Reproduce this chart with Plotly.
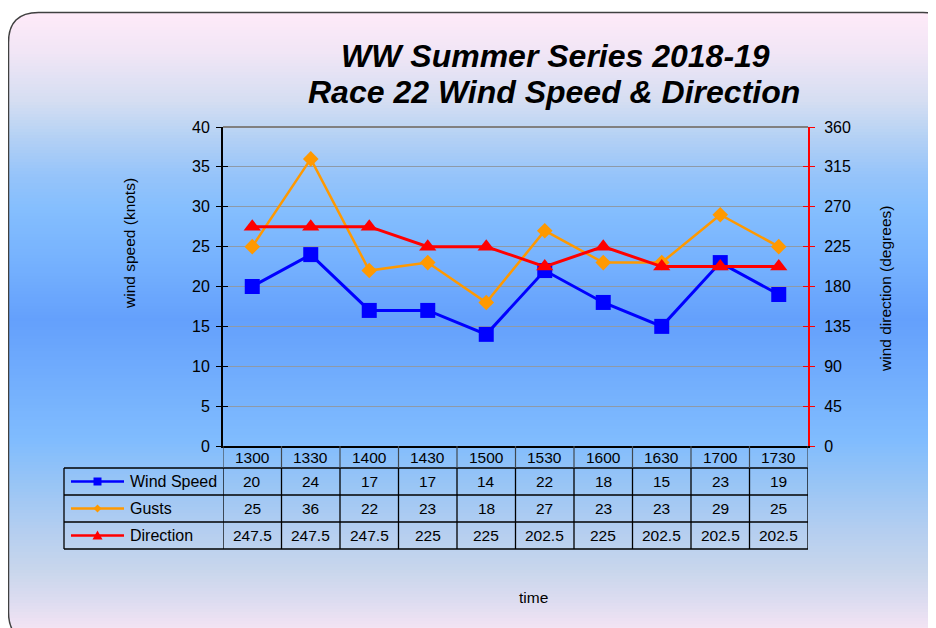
import plotly.graph_objects as go

times = ["1300", "1330", "1400", "1430", "1500", "1530", "1600", "1630", "1700", "1730"]
wind_speed = [20, 24, 17, 17, 14, 22, 18, 15, 23, 19]
gusts = [25, 36, 22, 23, 18, 27, 23, 23, 29, 25]
direction = [247.5, 247.5, 247.5, 225, 225, 202.5, 225, 202.5, 202.5, 202.5]
direction_labels = ["247.5", "247.5", "247.5", "225", "225", "202.5", "225", "202.5", "202.5", "202.5"]

# page has an 8px body margin: figure occupies window pixels 8..936 x 8..628
OFF = 8
W, H = 936 - OFF, 628 - OFF
FONT = "Liberation Sans, Arial, sans-serif"


def px(x):
    return (x - OFF) / W


def py(y):
    return 1 - (y - OFF) / H


BLUE = "#0000FF"
ORANGE = "#FF9900"
RED = "#FF0000"

fig = go.Figure()
fig.add_trace(go.Scatter(x=times, y=wind_speed, mode="lines+markers", name="Wind Speed",
                         line=dict(color=BLUE, width=3),
                         marker=dict(symbol="square", size=15, color=BLUE), xaxis="x", yaxis="y"))
fig.add_trace(go.Scatter(x=times, y=gusts, mode="lines+markers", name="Gusts",
                         line=dict(color=ORANGE, width=2.5),
                         marker=dict(symbol="diamond", size=12, color=ORANGE), xaxis="x", yaxis="y"))
fig.add_trace(go.Scatter(x=times, y=direction, mode="lines+markers", name="Direction",
                         line=dict(color=RED, width=3),
                         marker=dict(symbol="triangle-up", size=15, color=RED), xaxis="x", yaxis="y2"))

shapes = []

# background gradient
stops = [
    (12, (0xFF, 0xEA, 0xF8)), (50, (0xF2, 0xE6, 0xF6)), (100, (0xD6, 0xDE, 0xF2)),
    (135, (0xB6, 0xD2, 0xF4)), (175, (0x96, 0xC4, 0xFA)), (210, (0x84, 0xBE, 0xFE)),
    (260, (0x76, 0xB2, 0xFE)), (320, (0x64, 0xA0, 0xFC)), (380, (0x72, 0xAE, 0xFD)),
    (440, (0x80, 0xBC, 0xFE)), (480, (0x96, 0xC4, 0xF6)), (530, (0xB4, 0xCE, 0xF0)),
    (570, (0xC8, 0xD6, 0xEC)), (600, (0xDC, 0xDC, 0xF0)), (630, (0xF4, 0xE4, 0xF4)),
]


def col_at(y):
    for (y0, c0), (y1, c1) in zip(stops[:-1], stops[1:]):
        if y0 <= y <= y1:
            t = (y - y0) / (y1 - y0)
            return "rgb(%d,%d,%d)" % tuple(round(a + (b - a) * t) for a, b in zip(c0, c1))
    return "rgb(%d,%d,%d)" % stops[-1][1]


y = 12
step = 3
while y < 632:
    shapes.append(dict(type="rect", xref="paper", yref="paper", x0=px(8), x1=1.05,
                       y0=py(y), y1=py(y + step + 0.6), fillcolor=col_at(y + step / 2),
                       line=dict(width=0), layer="below"))
    y += step

L, T, R, B, r = 8.5, 12.5, 953, 642, 30


def P(x, yy):
    return "%f,%f" % (px(x), py(yy))


# white corner patches
shapes.append(dict(type="path", xref="paper", yref="paper", layer="below", fillcolor="white",
                   line=dict(width=0),
                   path=f"M{P(L-1,T-1)} L{P(L+r,T-1)} L{P(L+r,T)} Q{P(L,T)} {P(L,T+r)} L{P(L-1,T+r)} Z"))
shapes.append(dict(type="path", xref="paper", yref="paper", layer="below", fillcolor="white",
                   line=dict(width=0),
                   path=f"M{P(L-1,B+1)} L{P(L+r,B+1)} L{P(L+r,B)} Q{P(L,B)} {P(L,B-r)} L{P(L-1,B-r)} Z"))
shapes.append(dict(type="path", xref="paper", yref="paper", layer="below", fillcolor="white",
                   line=dict(width=0),
                   path=f"M{P(R+1,T-1)} L{P(R-r,T-1)} L{P(R-r,T)} Q{P(R,T)} {P(R,T+r)} L{P(R+1,T+r)} Z"))
# border
shapes.append(dict(type="path", xref="paper", yref="paper", layer="below",
                   line=dict(color="#404040", width=1.5),
                   path=f"M{P(L,T+r)} Q{P(L,T)} {P(L+r,T)} L{P(R-r,T)} Q{P(R,T)} {P(R,T+r)} "
                        f"L{P(R,B-r)} Q{P(R,B)} {P(R-r,B)} L{P(L+r,B)} Q{P(L,B)} {P(L,B-r)} Z"))

# plot top border
shapes.append(dict(type="line", xref="x domain", yref="y domain", x0=0, x1=1, y0=1, y1=1,
                   line=dict(color="#808080", width=2)))

# data table
row_lines = [468, 495, 522, 549]
for yy in row_lines:
    shapes.append(dict(type="line", xref="paper", yref="paper", x0=px(64), x1=px(808),
                       y0=py(yy), y1=py(yy), line=dict(color="black", width=1.3)))
shapes.append(dict(type="line", xref="paper", yref="paper", x0=px(64), x1=px(64),
                   y0=py(468), y1=py(549), line=dict(color="black", width=1.3)))
n = len(times)
for i in range(n + 1):
    shapes.append(dict(type="line", xref="x", yref="paper", x0=i - 0.5, x1=i - 0.5,
                       y0=py(446), y1=py(468), line=dict(color="#404850", width=1.2)))
    shapes.append(dict(type="line", xref="x", yref="paper", x0=i - 0.5, x1=i - 0.5,
                       y0=py(468), y1=py(549), line=dict(color="black", width=1.3)))

annotations = []
hdr_y, row_ys = 457, [481.5, 508.5, 535.5]
rows = [
    [str(v) for v in wind_speed],
    [str(v) for v in gusts],
    direction_labels,
]
for i, t in enumerate(times):
    annotations.append(dict(x=i, y=py(hdr_y), xref="x", yref="paper", text=t, showarrow=False,
                            xanchor="center", yanchor="middle",
                            font=dict(size=15.5, color="black", family=FONT)))
    for ry, vals in zip(row_ys, rows):
        annotations.append(dict(x=i, y=py(ry), xref="x", yref="paper", text=vals[i], showarrow=False,
                                xanchor="center", yanchor="middle",
                                font=dict(size=15.5, color="black", family=FONT)))

# legend keys inside the table
names = ["Wind Speed", "Gusts", "Direction"]
colors = [BLUE, ORANGE, RED]
for ry, nm, c in zip(row_ys, names, colors):
    shapes.append(dict(type="line", xref="paper", yref="paper", x0=px(71), x1=px(124),
                       y0=py(ry), y1=py(ry), line=dict(color=c, width=2.5)))
    annotations.append(dict(x=px(128), y=py(ry), xref="paper", yref="paper", text=nm,
                            showarrow=False, xanchor="left", yanchor="middle",
                            font=dict(size=16, color="black", family=FONT)))
cx = 97.5
ry = row_ys[0]
shapes.append(dict(type="rect", xref="paper", yref="paper", x0=px(cx - 4), x1=px(cx + 4),
                   y0=py(ry + 4), y1=py(ry - 4), fillcolor=BLUE, line=dict(width=0)))
ry = row_ys[1]
shapes.append(dict(type="path", xref="paper", yref="paper", fillcolor=ORANGE, line=dict(width=0),
                   path=f"M{P(cx, ry-4)} L{P(cx+4, ry)} L{P(cx, ry+4)} L{P(cx-4, ry)} Z"))
ry = row_ys[2]
shapes.append(dict(type="path", xref="paper", yref="paper", fillcolor=RED, line=dict(width=0),
                   path=f"M{P(cx, ry-5)} L{P(cx+5, ry+4)} L{P(cx-5, ry+4)} Z"))

# axis titles
annotations.append(dict(x=px(130), y=py(244), xref="paper", yref="paper", text="wind speed (knots)",
                        showarrow=False, textangle=-90, xanchor="center", yanchor="middle",
                        font=dict(size=15.5, color="black", family=FONT)))
annotations.append(dict(x=px(885), y=py(289), xref="paper", yref="paper",
                        text="wind direction (degrees)", showarrow=False, textangle=-90,
                        xanchor="center", yanchor="middle",
                        font=dict(size=15.5, color="black", family=FONT)))
annotations.append(dict(x=px(533), y=py(597), xref="paper", yref="paper", text="time",
                        showarrow=False, xanchor="center", yanchor="middle",
                        font=dict(size=15.5, color="black", family=FONT)))
annotations.append(dict(x=px(555), y=py(56), xref="paper", yref="paper",
                        text="<b><i>WW Summer Series 2018-19</i></b>",
                        showarrow=False, xanchor="center", yanchor="middle",
                        font=dict(size=32, color="black", family=FONT)))
annotations.append(dict(x=px(554), y=py(92), xref="paper", yref="paper",
                        text="<b><i>Race 22 Wind Speed &amp; Direction</i></b>",
                        showarrow=False, xanchor="center", yanchor="middle",
                        font=dict(size=32, color="black", family=FONT)))

xd = [px(223), px(808)]
yd = [py(446), py(127)]
fig.update_layout(
    width=W, height=H,
    margin=dict(l=0, r=0, t=0, b=0, pad=0),
    paper_bgcolor="white", plot_bgcolor="rgba(0,0,0,0)",
    showlegend=False,
    font=dict(family=FONT, color="black"),
    xaxis=dict(domain=xd, type="category", range=[-0.5, n - 0.5], showticklabels=False,
               ticks="", showgrid=False, showline=True, linecolor="black", linewidth=2,
               zeroline=False, automargin=False, anchor="y", fixedrange=True),
    yaxis=dict(domain=yd, range=[0, 40], dtick=5, tick0=0, showgrid=True, gridcolor="#8E9AA8",
               gridwidth=1, showline=True, linecolor="black", linewidth=2, ticks="outside",
               ticklen=5, tickcolor="black", tickwidth=1.2, tickfont=dict(size=16, color="black"),
               ticklabelstandoff=3, zeroline=False, automargin=False, anchor="x"),
    yaxis2=dict(domain=yd, range=[0, 360], dtick=45, tick0=0, overlaying="y", side="right",
                showgrid=False, showline=True, linecolor=RED, linewidth=2, ticks="outside",
                ticklen=5, tickcolor=RED, tickwidth=1.2, tickfont=dict(size=16, color="black"),
                ticklabelstandoff=6, zeroline=False, automargin=False, anchor="x"),
    yaxis3=dict(domain=yd, range=[0, 40], dtick=5, tick0=0, overlaying="y", side="left",
                showgrid=False, showline=False, ticks="inside", ticklen=5, tickcolor="black",
                tickwidth=1.2, showticklabels=False, zeroline=False, automargin=False, anchor="x"),
    yaxis4=dict(domain=yd, range=[0, 360], dtick=45, tick0=0, overlaying="y", side="right",
                showgrid=False, showline=False, ticks="inside", ticklen=5, tickcolor=RED,
                tickwidth=1.2, showticklabels=False, zeroline=False, automargin=False, anchor="x"),
    shapes=shapes,
    annotations=annotations,
)
# dummy traces so overlay axes render
fig.add_trace(go.Scatter(x=[times[0]], y=[None], yaxis="y3", xaxis="x", showlegend=False, hoverinfo="skip"))
fig.add_trace(go.Scatter(x=[times[0]], y=[None], yaxis="y4", xaxis="x", showlegend=False, hoverinfo="skip"))

fig.write_html("out.html")
